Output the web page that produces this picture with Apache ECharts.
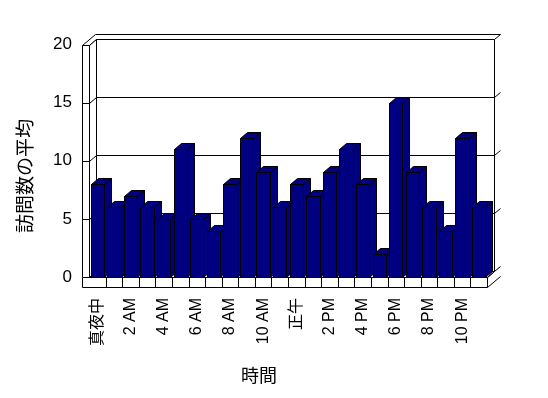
<!DOCTYPE html>
<html>
<head>
<meta charset="utf-8">
<script src="https://cdn.jsdelivr.net/npm/echarts@6/dist/echarts.min.js"></script>
<style>
html, body { margin: 0; padding: 0; background: #fff; }
#chart { width: 548px; height: 398px; }
</style>
</head>
<body>
<div id="chart"></div>
<script>
// 時間ごとの訪問数
var hours = ['真夜中', '1 AM', '2 AM', '3 AM', '4 AM', '5 AM', '6 AM', '7 AM', '8 AM', '9 AM', '10 AM', '11 AM',
             '正午', '1 PM', '2 PM', '3 PM', '4 PM', '5 PM', '6 PM', '7 PM', '8 PM', '9 PM', '10 PM', '11 PM'];
var visits = [8, 6, 7, 6, 5, 11, 5, 4, 8, 12, 9, 6, 8, 7, 9, 11, 8, 2, 15, 9, 6, 4, 12, 6];
var yTicks = [0, 5, 10, 15, 20];
var xTitle = '時間';
var yTitle = '訪問数の平均';

var FONT = "'Liberation Sans', 'Noto Sans CJK JP', sans-serif";
var DX = 7, DY = -6;     // 奥行き
var WT = 7;              // 左壁の厚さ
var BX = 6, BY = -5;     // 奥の壁の厚さ
var FH = 10;             // 床の厚さ

function px(v) { return Math.round(v) + 0.5; }

function renderWalls(params, api) {
    var cs = params.coordSys;
    var L = px(cs.x), R = px(cs.x + cs.width), T = px(cs.y), B = px(cs.y + cs.height);
    var cw = api.size([1, 0])[0];
    var box = { fill: '#fff', stroke: '#000', lineWidth: 1 };
    var ln = { fill: null, stroke: '#000', lineWidth: 1 };
    var kids = [];
    // 上面
    kids.push({ type: 'polygon', shape: { points: [[L - WT, T], [L - WT + DX + BX, T + DY + BY], [R + DX + BX, T + DY + BY],
        [R + DX, T + DY], [L + DX, T + DY], [L, T]] }, style: box });
    // 奥の壁
    kids.push({ type: 'rect', shape: { x: L + DX, y: T + DY, width: R - L, height: B - T }, style: box });
    // 左の壁
    kids.push({ type: 'polygon', shape: { points: [[L, T], [L + DX, T + DY], [L + DX, B + DY], [L, B]] }, style: box });
    kids.push({ type: 'rect', shape: { x: L - WT, y: T, width: WT, height: B - T }, style: box });
    // 床
    kids.push({ type: 'polygon', shape: { points: [[L, B], [R, B], [R + DX, B + DY], [L + DX, B + DY]] }, style: box });
    kids.push({ type: 'rect', shape: { x: L - WT, y: B, width: R - L + WT, height: FH }, style: box });
    kids.push({ type: 'polyline', shape: { points: [[R, B + FH], [R + DX + BX, B + FH + DY + BY]] }, style: ln });
    kids.push({ type: 'polyline', shape: { points: [[R, B], [R + DX, B + DY]] }, style: ln });
    for (var i = 1; i < hours.length; i++) {
        var x = px(cs.x + i * cw);
        kids.push({ type: 'polyline', shape: { points: [[x, B], [x, B + FH]] }, style: ln });
    }
    // 目盛線
    for (var j = 0; j < yTicks.length; j++) {
        var y = px(api.coord([0, yTicks[j]])[1]);
        if (yTicks[j] > 0 && yTicks[j] < yTicks[yTicks.length - 1]) {
            kids.push({ type: 'polyline', shape: { points: [[L - WT, y], [L, y], [L + DX, y + DY], [R + DX, y + DY]] }, style: ln });
        }
        if (yTicks[j] < yTicks[yTicks.length - 1]) {
            kids.push({ type: 'polyline', shape: { points: [[R + DX, y + DY], [R + DX + BX, y + DY + BY]] }, style: ln });
        }
    }
    return { type: 'group', children: kids };
}

function renderBar(params, api) {
    var base = api.coord([api.value(0), 0]);
    var top = api.coord([api.value(0), api.value(1)]);
    var w = api.size([1, 0])[0] * 0.8;
    var x0 = px(base[0] - w / 2), x1 = px(base[0] + w / 2);
    var y0 = px(base[1]), y1 = px(top[1]);
    var style = { fill: '#000080', stroke: '#000', lineWidth: 1 };
    return {
        type: 'group',
        children: [
            { type: 'polygon', shape: { points: [[x1, y1], [x1 + DX, y1 + DY], [x1 + DX, y0 + DY], [x1, y0]] }, style: style },
            { type: 'polygon', shape: { points: [[x0, y1], [x1, y1], [x1 + DX, y1 + DY], [x0 + DX, y1 + DY]] }, style: style },
            { type: 'rect', shape: { x: x0, y: y1, width: x1 - x0, height: y0 - y1 }, style: style }
        ]
    };
}

var option = {
    animation: false,
    backgroundColor: '#fff',
    grid: { left: 89, right: 61, top: 44.5, bottom: 121 },
    xAxis: {
        type: 'category',
        data: hours,
        axisLine: { show: false },
        axisTick: { show: false },
        axisLabel: { interval: 1, rotate: 90, margin: 21, color: '#000', fontSize: 16, fontFamily: FONT }
    },
    yAxis: {
        type: 'value',
        min: yTicks[0],
        max: yTicks[yTicks.length - 1],
        interval: 5,
        axisLine: { show: false },
        axisTick: { show: false },
        splitLine: { show: false },
        axisLabel: { margin: 17, color: '#000', fontSize: 17, fontFamily: FONT }
    },
    graphic: [
        { type: 'text', x: 259, y: 377, style: { text: xTitle, font: '18px ' + FONT, fill: '#000', align: 'center', verticalAlign: 'middle' } },
        { type: 'text', x: 27, y: 176, rotation: Math.PI / 2, style: { text: yTitle, font: '19px ' + FONT, fill: '#000', align: 'center', verticalAlign: 'middle' } }
    ],
    series: [
        { type: 'custom', z: 1, silent: true, renderItem: renderWalls, data: [[0, 0]] },
        { type: 'custom', z: 2, renderItem: renderBar, data: visits.map(function (v, i) { return [i, v]; }) }
    ]
};

window.onload = function () {
    var chart = echarts.init(document.getElementById('chart'));
    chart.setOption(option);
};
</script>
</body>
</html>
